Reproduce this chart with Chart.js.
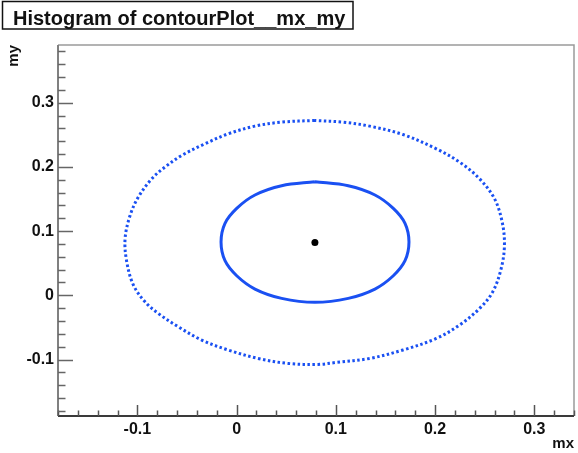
<!DOCTYPE html>
<html>
<head>
<meta charset="utf-8">
<script src="https://cdn.jsdelivr.net/npm/chart.js@4/dist/chart.umd.min.js"></script>
<style>
html,body{margin:0;padding:0;background:#fff;}
#wrap{width:578px;height:453px;}
</style>
</head>
<body>
<div id="wrap"><canvas id="c" width="578" height="453"></canvas></div>
<script>
// ---- data ----
const chartTitle = "Histogram of contourPlot__mx_my";
const xTitle = "mx";
const yTitle = "my";
const xRange = [-0.18, 0.34];
const yRange = [-0.188, 0.39];
const tickStep = 0.02;   // minor tick spacing
const majorStep = 0.1;   // labelled tick spacing

// best-fit point
const centerX = [0.0789];
const centerY = [0.0822];

// inner (1 sigma) contour, solid
const innerX = [0.0789, 0.0454, 0.0185, 0.0001, -0.0117, -0.0157, -0.0117, 0.0001, 0.0185, 0.0454, 0.0789, 0.1125, 0.1394, 0.1579, 0.1697, 0.1737, 0.1697, 0.1579, 0.1394, 0.1125, 0.0789];
const innerY = [0.1770, 0.1707, 0.1563, 0.1355, 0.1122, 0.0830, 0.0539, 0.0305, 0.0098, -0.0047, -0.0109, -0.0047, 0.0098, 0.0305, 0.0539, 0.0830, 0.1122, 0.1355, 0.1563, 0.1707, 0.1770];

// outer (2 sigma) contour, dotted
const outerX = [0.0788, 0.0453, 0.0184, -0.0085, -0.0319, -0.0553, -0.0721, -0.0855, -0.0990, -0.1073, -0.1124, -0.1107, -0.1040, -0.0923, -0.0789, -0.0588, -0.0352, -0.0085, 0.0217, 0.0519, 0.0821, 0.1006, 0.1341, 0.1676, 0.2012, 0.2246, 0.2448, 0.2581, 0.2666, 0.2699, 0.2676, 0.2599, 0.2448, 0.2246, 0.2012, 0.1676, 0.1341, 0.1072, 0.0788];
const outerY = [0.2725, 0.2698, 0.2636, 0.2516, 0.2361, 0.2180, 0.2000, 0.1816, 0.1532, 0.1247, 0.0883, 0.0521, 0.0159, -0.0101, -0.0283, -0.0490, -0.0697, -0.0852, -0.0983, -0.1061, -0.1076, -0.1045, -0.0983, -0.0852, -0.0672, -0.0463, -0.0205, 0.0054, 0.0417, 0.0781, 0.1143, 0.1505, 0.1816, 0.2076, 0.2283, 0.2505, 0.2636, 0.2698, 0.2725];

// ---- helpers ----
const pts = (xs, ys) => xs.map((x, i) => ({x: x, y: ys[i]}));
const isMajor = v => Math.abs(v / majorStep - Math.round(v / majorStep)) < 1e-6;
const fmt = v => {
  const r = Math.round(v * 10) / 10;
  if (Math.abs(r) < 1e-9) return "0";
  return String(r);
};
const FONT = "'Liberation Sans', Arial, Helvetica, sans-serif";
const BLUE = '#1a50f2';

const framePlugin = {
  id: 'rootFrame',
  afterDraw(chart) {
    const ctx = chart.ctx;
    const ca = chart.chartArea;
    const xs = chart.scales.x, ys = chart.scales.y;
    ctx.save();
    // top & right frame
    ctx.strokeStyle = '#9a9a9a';
    ctx.lineWidth = 1.5;
    ctx.beginPath();
    ctx.moveTo(ca.left, ca.top); ctx.lineTo(ca.right, ca.top); ctx.lineTo(ca.right, ca.bottom);
    ctx.stroke();
    // left axis
    ctx.strokeStyle = '#808080';
    ctx.lineWidth = 2;
    ctx.beginPath(); ctx.moveTo(ca.left, ca.top); ctx.lineTo(ca.left, ca.bottom); ctx.stroke();
    // bottom axis
    ctx.strokeStyle = '#3a3a3a';
    ctx.beginPath(); ctx.moveTo(ca.left, ca.bottom); ctx.lineTo(ca.right, ca.bottom); ctx.stroke();
    // inward ticks
    ctx.lineWidth = 1.5;
    ctx.strokeStyle = '#555';
    xs.ticks.forEach(t => {
      const px = Math.round(xs.getPixelForValue(t.value)) + 0.5;
      const len = isMajor(t.value) ? 11 : 5.5;
      ctx.beginPath(); ctx.moveTo(px, ca.bottom); ctx.lineTo(px, ca.bottom - len); ctx.stroke();
    });
    ctx.strokeStyle = '#666';
    ys.ticks.forEach(t => {
      const py = Math.round(ys.getPixelForValue(t.value)) + 0.5;
      const len = isMajor(t.value) ? 15 : 7.5;
      ctx.beginPath(); ctx.moveTo(ca.left, py); ctx.lineTo(ca.left + len, py); ctx.stroke();
    });
    // title box
    ctx.fillStyle = '#fff';
    ctx.fillRect(2, 1, 351, 28);
    ctx.strokeStyle = '#111';
    ctx.lineWidth = 1.5;
    ctx.strokeRect(2.5, 1.5, 350.5, 27.5);
    ctx.fillStyle = '#111';
    ctx.font = "bold 20px " + FONT;
    ctx.textAlign = 'left';
    ctx.textBaseline = 'alphabetic';
    ctx.fillText(chartTitle, 13, 25);
    ctx.restore();
  }
};

new Chart(document.getElementById('c'), {
  type: 'scatter',
  data: {
    datasets: [
      {
        label: 'outer', data: pts(outerX, outerY), showLine: true,
        borderColor: BLUE, borderWidth: 3, borderDash: [2.5, 2.5],
        pointRadius: 0, tension: 0.35, fill: false, order: 2
      },
      {
        label: 'inner', data: pts(innerX, innerY), showLine: true,
        borderColor: BLUE, borderWidth: 3,
        pointRadius: 0, tension: 0.35, fill: false, order: 1
      },
      {
        label: 'center', data: pts(centerX, centerY), showLine: false,
        pointRadius: 3.5, pointBackgroundColor: '#000', pointBorderColor: '#000', pointBorderWidth: 0, order: 0
      }
    ]
  },
  options: {
    responsive: false,
    animation: false,
    devicePixelRatio: 1,
    layout: { padding: { top: 45, right: 4, left: 0, bottom: 0 } },
    plugins: { legend: { display: false }, tooltip: { enabled: false }, title: { display: false } },
    scales: {
      x: {
        type: 'linear', min: xRange[0], max: xRange[1],
        afterFit: s => { s.height = 37; },
        grid: { display: false, drawTicks: false },
        border: { display: false },
        ticks: {
          stepSize: tickStep, autoSkip: false, includeBounds: false, maxRotation: 0, padding: 4,
          color: '#111', font: { family: FONT, size: 16, weight: 'bold' },
          callback: v => isMajor(v) ? fmt(v) : ''
        },
        title: {
          display: true, text: xTitle, align: 'end', color: '#111',
          font: { family: FONT, size: 15, weight: 'bold' }, padding: { top: 0, bottom: 0 }
        }
      },
      y: {
        type: 'linear', min: yRange[0], max: yRange[1],
        afterFit: s => { s.width = 58; },
        grid: { display: false, drawTicks: false },
        border: { display: false },
        ticks: {
          stepSize: tickStep, autoSkip: false, includeBounds: false, padding: 4,
          color: '#111', font: { family: FONT, size: 16, weight: 'bold' },
          callback: v => isMajor(v) ? fmt(v) : ''
        },
        title: {
          display: true, text: yTitle, align: 'end', color: '#111',
          font: { family: FONT, size: 15, weight: 'bold' }, padding: { top: 5, bottom: 0 }
        }
      }
    }
  },
  plugins: [framePlugin]
});
</script>
</body>
</html>
